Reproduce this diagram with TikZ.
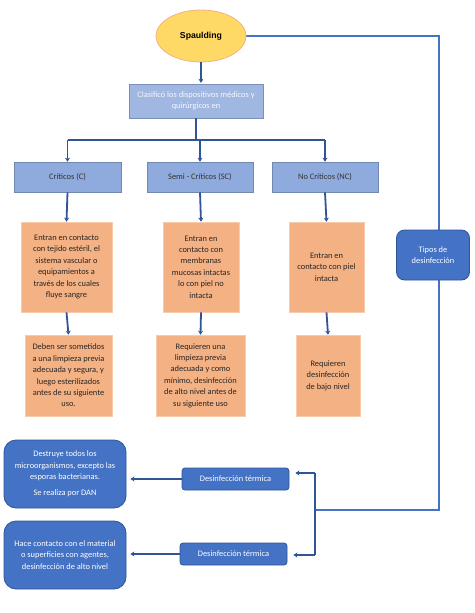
\documentclass[tikz,border=0pt]{standalone}
\usepackage{fontspec}
\setmainfont{Carlito}
\newfontfamily\arialfont{Liberation Sans}
\usetikzlibrary{shapes.geometric,arrows.meta,backgrounds}
\definecolor{lineblue}{HTML}{2F5597}
\definecolor{midblue}{HTML}{4472C4}
\definecolor{paleblue}{HTML}{8FAADC}
\definecolor{salmon}{HTML}{F4B183}
\definecolor{salmonline}{HTML}{F8CBAD}
\definecolor{gold}{HTML}{FFD966}
\definecolor{goldline}{HTML}{F4B183}
\begin{document}
\begin{tikzpicture}[x=1pt,y=-1pt,
    every node/.style={font=\fontsize{8.4}{11.4}\selectfont, align=center, inner sep=2pt},
    kind/.style={draw=paleblue!80!black, line width=0.6pt, fill=paleblue, text=black!80, minimum height=30pt},
    desc/.style={draw=salmonline, line width=0.6pt, fill=salmon, text=black!85},
    dark/.style={draw=lineblue, line width=0.8pt, fill=midblue, text=white, rounded corners=12pt},
    flow/.style={draw=lineblue, line width=1.8pt, -{Stealth[length=4pt,width=5pt]}}]
    \useasboundingbox (0,0) rectangle (474,613);
    % top
    \node [ellipse, draw=goldline, line width=0.8pt, fill=gold, minimum width=90pt, minimum height=52pt,
           font=\arialfont\bfseries\fontsize{8.7}{10}\selectfont] (spa) at (201,36) {Spaulding};
    \node [draw=paleblue!85!black, fill=paleblue!85!white, text=white!92!paleblue, minimum width=134pt, minimum height=34pt] (clas) at (196,101)
          {Clasificó los dispositivos médicos y\\quirúrgicos en};
    % categories
    \node [kind, minimum width=107pt] (c1) at (67.5,177) {Críticos (C)};
    \node [kind, minimum width=106pt] (c2) at (200,177) {Semi - Críticos (SC)};
    \node [kind, minimum width=106pt] (c3) at (325,177) {No Críticos (NC)};
    \node [desc, minimum width=91pt, minimum height=90pt] (e1) at (66.5,267)
          {Entran en contacto\\con tejido estéril, el\\sistema vascular o\\equipamientos a\\través de los cuales\\fluye sangre};
    \node [desc, minimum width=76pt, minimum height=90pt] (e2) at (201,267)
          {Entran en\\contacto con\\membranas\\mucosas intactas\\lo con piel no\\intacta};
    \node [desc, minimum width=75pt, minimum height=90pt] (e3) at (326.5,267)
          {Entran en\\contacto con piel\\intacta};
    \node [desc, minimum width=87pt, minimum height=81pt] (r1) at (68.5,375.5)
          {Deben ser sometidos\\a una limpieza previa\\adecuada y segura, y\\luego esterilizados\\antes de su siguiente\\uso.};
    \node [desc, minimum width=89pt, minimum height=81pt] (r2) at (200.5,375.5)
          {Requieren una\\limpieza previa\\adecuada y como\\mínimo, desinfección\\de alto nivel antes de\\su siguiente uso};
    \node [desc, minimum width=64pt, minimum height=81pt] (r3) at (328,375.5)
          {Requieren\\desinfección\\de bajo nivel};
    % disinfection
    \node [dark, rounded corners=8pt, minimum width=73pt, minimum height=50pt] (tipos) at (433,255) {Tipos de\\desinfección};
    \node [dark, rounded corners=3pt, minimum width=107pt, minimum height=22pt] (d1) at (235.5,479) {Desinfección térmica};
    \node [dark, rounded corners=3pt, minimum width=107pt, minimum height=22pt] (d2) at (233.5,554) {Desinfección térmica};
    \node [dark, minimum width=122pt, minimum height=68pt] (b1) at (65,474)
          {Destruye todos los\\microorganismos, excepto las\\esporas bacterianas.\\[5pt]Se realiza por DAN};
    \node [dark, minimum width=122pt, minimum height=68pt] (b2) at (65,555)
          {Hace contacto con el material\\o superficies con agentes,\\desinfección de alto nivel};
    \coordinate (bus) at (198,140);
    \coordinate (right) at (439,36);
    \coordinate (jt) at (315,510);
    \coordinate (ja) at (315,473);
    \coordinate (jb) at (315,555);
    % connectors
    \begin{scope}[on background layer]
    \draw [midblue, line width=1.2pt] (spa.east) -- (right) |- (jt);
    \end{scope}
    \draw [flow, shorten >=1pt] (spa.south) -- (spa.south |- clas.north);
    \draw [lineblue, line width=1.8pt] (clas.south) -- (clas.south |- bus);
    \draw [lineblue, line width=1.2pt] (c1.north |- bus) -- (c3.north |- bus);
    \foreach \n in {1,2,3} {
        \draw [flow] (c\n.north |- bus) -- (c\n.north);
        \draw [flow] (c\n.south) -- (e\n.north);
        \draw [flow] (e\n.south) -- (r\n.north);
    }
    \draw [lineblue, line width=1.8pt] (ja) -- (jb);
    \draw [flow, shorten >=6pt] (ja) -- (d1.east |- ja);
    \draw [flow, shorten >=6pt] (jb) -- (d2.east |- jb);
    \draw [flow, shorten >=4pt] (d1.west) -- (b1.east |- d1.west);
    \draw [flow, shorten >=4pt] (d2.west) -- (b2.east |- d2.west);
\end{tikzpicture}
\end{document}
